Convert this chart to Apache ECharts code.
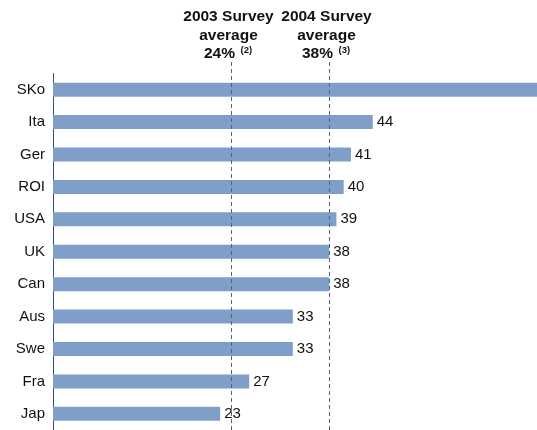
<!DOCTYPE html>
<html><head><meta charset="utf-8">
<script src="https://cdn.jsdelivr.net/npm/echarts@6/dist/echarts.min.js"></script>
<style>html,body{margin:0;padding:0;background:#fff}#c{width:537px;height:430px}</style>
</head><body><div id="c"></div>
<script>
const categories = ['SKo','Ita','Ger','ROI','USA','UK','Can','Aus','Swe','Fra','Jap'];
const values = [67, 44, 41, 40, 39, 38, 38, 33, 33, 27, 23];
const valueLabels = ['', '44', '41', '40', '39', '38', '38', '33', '33', '27', '23'];
const averagePositions = [24.5, 38];
const averageTitles = ['2003 Survey', '2004 Survey'];
const averageTexts = ['24%', '38%'];
const averageNotes = ['(2)', '(3)'];

const chart = echarts.init(document.getElementById('c'));
const FONT = 'Liberation Sans, Arial, Helvetica, sans-serif';
chart.setOption({
  animation: false,
  grid: {left: 53, right: 0, top: 73.5, bottom: 0, containLabel: false},
  xAxis: {type: 'value', min: 0, max: 66.6, show: false},
  yAxis: {
    type: 'category', data: categories, inverse: true,
    axisLine: {show: true, lineStyle: {color: '#2f4f82', width: 1}},
    axisTick: {show: false},
    axisLabel: {color: '#111', fontSize: 15, fontFamily: FONT, margin: 8}
  },
  series: [{
    type: 'bar', data: values, barWidth: 14, clip: true,
    itemStyle: {color: '#7f9fc9'},
    label: {show: true, position: 'right', distance: 4, color: '#111', fontSize: 15, fontFamily: FONT,
      formatter: p => valueLabels[p.dataIndex]}
  }]
});

function drawOverlay() {
  const els = [];
  averagePositions.forEach((v, i) => {
    const x = Math.round(chart.convertToPixel({xAxisIndex: 0}, v)) + 0.5;
    els.push({type: 'line', shape: {x1: x, y1: 62, x2: x, y2: 430}, z: 10,
      style: {stroke: '#4d6489', lineWidth: 1, lineDash: [4, 3]}});
    const cx = x - 3;
    const f = 'bold 15.5px ' + FONT;
    els.push({type: 'text', x: cx, y: 17, z: 10,
      style: {text: averageTitles[i], align: 'center', verticalAlign: 'middle', font: f, fill: '#111'}});
    els.push({type: 'text', x: cx, y: 35.5, z: 10,
      style: {text: 'average', align: 'center', verticalAlign: 'middle', font: f, fill: '#111'}});
    els.push({type: 'text', x: cx - 9, y: 53.5, z: 10,
      style: {text: averageTexts[i], align: 'center', verticalAlign: 'middle', font: f, fill: '#111'}});
    els.push({type: 'text', x: cx + 12, y: 50, z: 10,
      style: {text: averageNotes[i], align: 'left', verticalAlign: 'middle', font: 'bold 9.5px ' + FONT, fill: '#111'}});
  });
  chart.setOption({graphic: els});
}
drawOverlay();
</script></body></html>
